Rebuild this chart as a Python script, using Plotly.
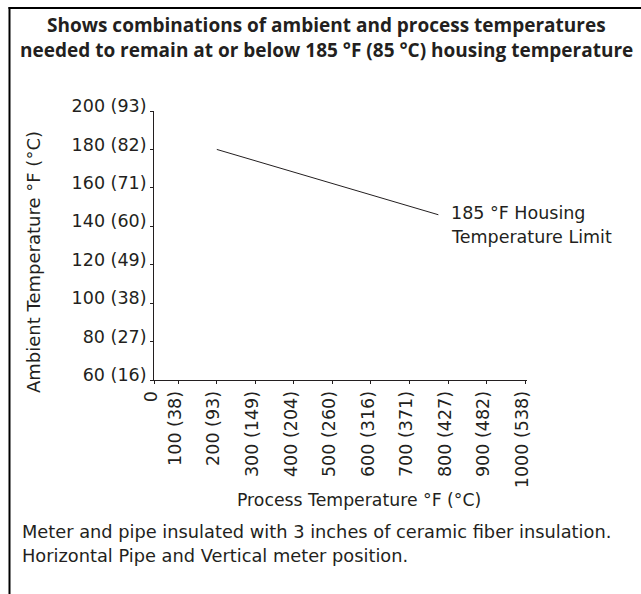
import plotly.graph_objects as go

# ---- data ----
x_tickvals = [37, 100, 200, 300, 400, 500, 600, 700, 800, 900, 1000]
x_ticktext = ["0", "100 (38)", "200 (93)", "300 (149)", "400 (204)", "500 (260)",
              "600 (316)", "700 (371)", "800 (427)", "900 (482)", "1000 (538)"]
y_tickvals = [60, 80, 100, 120, 140, 160, 180, 200]
y_ticktext = ["60 (16)", "80 (27)", "100 (38)", "120 (49)", "140 (60)",
              "160 (71)", "180 (82)", "200 (93)"]
limit_x = [200, 775]
limit_y = [180, 146]

title_lines = ["Shows combinations of ambient and process temperatures",
               "needed to remain at or below 185 °F (85 °C) housing temperature"]
label_lines = ["185 °F Housing", "Temperature Limit"]
footer_lines = ["Meter and pipe insulated with 3 inches of ceramic fiber insulation.",
                "Horizontal Pipe and Vertical meter position."]
x_title = "Process Temperature °F (°C)"
y_title = "Ambient Temperature °F (°C)"

# ---- layout geometry (pixels) ----
WIDTH, HEIGHT = 641, 594
L, R, T, B = 154, 527, 111, 380
FRAME_LEFT, FRAME_TOP = 9.5, 8
INK = "#231f20"
FONT = "DejaVu Sans"
TFONT = "Open Sans"


def px(x):
    return x / WIDTH


def py(y):
    return 1 - y / HEIGHT


fig = go.Figure()
fig.add_trace(go.Scatter(x=limit_x, y=limit_y, mode="lines",
                         xaxis="x", yaxis="y",
                         line=dict(color=INK, width=1), hoverinfo="skip",
                         showlegend=False))

# page frame (top and left rule) on a full-page overlay subplot
fig.add_trace(go.Scatter(x=[FRAME_LEFT - 1, WIDTH, None, FRAME_LEFT, FRAME_LEFT],
                         y=[FRAME_TOP, FRAME_TOP, None, FRAME_TOP - 1, HEIGHT],
                         xaxis="x2", yaxis="y2", mode="lines",
                         line=dict(color="#000000", width=2),
                         hoverinfo="skip", showlegend=False))

ann = []
for i, t in enumerate(title_lines):
    ann.append(dict(text="<b>%s</b>" % t, x=px(326), y=py(25 + 25 * i),
                    xanchor="center", yanchor="middle",
                    font=dict(family=TFONT, size=19, color=INK)))
for i, t in enumerate(label_lines):
    ann.append(dict(text=t, x=px(449), y=py(213 + 23.5 * i),
                    xanchor="left", yanchor="middle",
                    font=dict(family=FONT, size=17.5, color=INK)))
for i, t in enumerate(footer_lines):
    ann.append(dict(text=t, x=px(20), y=py(531.5 + 23.5 * i),
                    xanchor="left", yanchor="middle",
                    font=dict(family=FONT, size=17.8, color=INK)))
ann.append(dict(text=x_title, x=px(359), y=py(500), xanchor="center",
                yanchor="middle", font=dict(family=FONT, size=17.3, color=INK)))
ann.append(dict(text=y_title, x=px(33), y=py(262), xanchor="center",
                yanchor="middle", textangle=-90,
                font=dict(family=FONT, size=18, color=INK)))
for a in ann:
    a.update(xref="paper", yref="paper", showarrow=False)

fig.update_layout(
    width=WIDTH, height=HEIGHT,
    margin=dict(l=0, r=0, t=0, b=0, autoexpand=False),
    paper_bgcolor="white", plot_bgcolor="rgba(0,0,0,0)",
    xaxis=dict(range=[37, 1005], domain=[px(L), px(R)], anchor="y",
               tickvals=x_tickvals, ticktext=x_ticktext,
               tickangle=-90, showgrid=False, zeroline=False,
               showline=True, linecolor=INK, linewidth=1,
               ticks="outside", ticklen=3, tickcolor=INK,
               ticklabelshift=-3, automargin=False,
               tickfont=dict(family=FONT, size=17.5, color=INK)),
    yaxis=dict(range=[60, 200], domain=[py(B), py(T)], anchor="x",
               tickvals=y_tickvals, ticktext=y_ticktext,
               showgrid=False, zeroline=False,
               showline=True, linecolor=INK, linewidth=1,
               ticks="outside", ticklen=3, tickcolor=INK,
               ticklabelshift=-5, automargin=False,
               tickfont=dict(family=FONT, size=17.5, color=INK)),
    xaxis2=dict(domain=[0, 1], range=[0, WIDTH], anchor="y2",
                visible=False, fixedrange=True),
    yaxis2=dict(domain=[0, 1], range=[HEIGHT, 0], anchor="x2",
                visible=False, fixedrange=True),
    annotations=ann, showlegend=False)

fig.write_html("out.html", config={"displayModeBar": False},
               post_script="document.body.style.margin='0';")
